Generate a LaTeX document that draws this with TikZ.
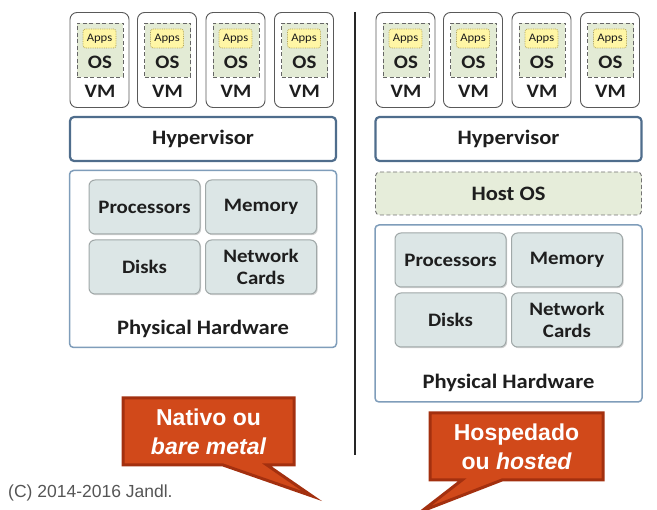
\documentclass[tikz,border=0pt]{standalone}
\usepackage{fontspec}
\setmainfont{Carlito}[FakeStretch=1.1]
\newfontfamily\arialfont{Liberation Sans}
\usetikzlibrary{shadows}
\definecolor{calfill}{HTML}{D1491A}
\definecolor{calborder}{HTML}{A3300F}
\definecolor{hypborder}{HTML}{4F6D8C}
\definecolor{phborder}{HTML}{7F9DBA}
\definecolor{compfill}{HTML}{DCE6E6}
\definecolor{compborder}{HTML}{A0A8A8}
\definecolor{osfill}{HTML}{E3EBD5}
\definecolor{hostfill}{HTML}{E6EDDA}
\definecolor{appsfill}{HTML}{FFF6A5}
\definecolor{appsborder}{HTML}{B3A455}
\definecolor{txt}{HTML}{1E1E1E}
\definecolor{copyc}{HTML}{555555}
\tikzset{
  vmbox/.style={draw=black!65, line width=0.9pt, fill=white, rounded corners=7pt, minimum width=59pt, minimum height=95pt, inner sep=0pt},
  osbox/.style={draw=black!60, dashed, dash pattern=on 4pt off 2.5pt, line width=0.9pt, fill=osfill, minimum width=46pt, minimum height=54pt, inner sep=0pt},
  appsbox/.style={draw=appsborder, densely dotted, line width=0.8pt, fill=appsfill, rounded corners=2.5pt, minimum width=33pt, minimum height=19pt, inner sep=0pt, font=\fontsize{11.5}{12}\selectfont, text=txt},
  lbl/.style={font=\bfseries\fontsize{19}{20}\selectfont, text=txt, inner sep=0pt},
  hyp/.style={draw=hypborder, line width=2.2pt, fill=white, rounded corners=4pt, minimum width=266pt, minimum height=44pt, font=\bfseries\fontsize{20.5}{22}\selectfont, text=txt},
  host/.style={draw=black!55, dashed, dash pattern=on 4pt off 2.5pt, line width=0.9pt, fill=hostfill, rounded corners=4pt, minimum width=266pt, minimum height=43pt, font=\bfseries\fontsize{20.5}{22}\selectfont, text=txt},
  phys/.style={draw=phborder, line width=1.5pt, fill=white, rounded corners=4pt, minimum width=267pt, minimum height=177pt, inner sep=0pt},
  comp/.style={draw=compborder, line width=1pt, fill=compfill, rounded corners=6pt, minimum width=111pt, minimum height=54pt, align=center, font=\bfseries\fontsize{19}{22}\selectfont, text=txt, drop shadow={shadow xshift=1.2pt, shadow yshift=-1.2pt, opacity=0.35}},
  callout/.style={fill=calfill, draw=calborder, line width=3pt, line join=miter},
  caltext/.style={text=white, align=center, font=\arialfont\bfseries\fontsize{23}{29}\selectfont, inner sep=0pt},
}
\begin{document}
\begin{tikzpicture}[x=1pt,y=-1pt]
\useasboundingbox (0,0) rectangle (657,510);
\clip (0,0) rectangle (657,510);
% VMs
\foreach \x [count=\i] in {70,137.5,206,274.5,376,443.5,512,580.5}{
  \node[vmbox] (vm\i) at (\x+29.5,60) {};
  \node[osbox] (os\i) at (\x+30,50) {};
  \node[appsbox] (apps\i) at (\x+29.5,38.5) {Apps};
  \node[lbl] (ost\i) at (\x+30,62) {OS};
  \node[lbl] (vmt\i) at (\x+30,91) {VM};
}
% Left stack
\node[hyp] (hypL) at (203,139) {Hypervisor};
\node[phys] (physL) at (203,259) {};
\node[lbl, font=\bfseries\fontsize{20.5}{22}\selectfont] (physLt) at (203,329) {Physical Hardware};
\node[comp] (procL) at (144.5,207) {Processors};
\node[comp] (memL) at (261,207) {Memory};
\node[comp] (diskL) at (144.5,267) {Disks};
\node[comp] (netL) at (261,267) {Network\\Cards};
% Right stack
\node[hyp] (hypR) at (508.5,139) {Hypervisor};
\node[host] (hostR) at (508.5,193.5) {Host OS};
\node[phys] (physR) at (508.5,313.5) {};
\node[lbl, font=\bfseries\fontsize{20.5}{22}\selectfont] (physRt) at (508.5,383) {Physical Hardware};
\node[comp] (procR) at (450.5,260) {Processors};
\node[comp] (memR) at (567,260) {Memory};
\node[comp] (diskR) at (450.5,320) {Disks};
\node[comp] (netR) at (567,320) {Network\\Cards};
% divider
\coordinate (divT) at (355,12);
\coordinate (divB) at (355,455);
\draw[line width=1.6pt, black!85] (divT) -- (divB);
% callout 1
\draw[callout] (123,398) -- (294,398) -- (294,465) -- (267,465) -- (312,496) -- (223,465) -- (123,465) -- cycle;
\node[caltext] (cal1) at (208.5,432) {Nativo ou\\\itshape bare metal};
% callout 2
\draw[callout] (430,413) -- (603,413) -- (603,480) -- (502,480) -- (422,511) -- (462,480) -- (430,480) -- cycle;
\node[caltext] (cal2) at (516.5,447) {Hospedado\\ou \itshape hosted};
% copyright
\node[anchor=west, inner sep=0pt, text=copyc, font=\arialfont\fontsize{17.5}{19}\selectfont] (copy) at (8,493) {(C) 2014-2016 Jandl.};
\end{tikzpicture}
\end{document}
